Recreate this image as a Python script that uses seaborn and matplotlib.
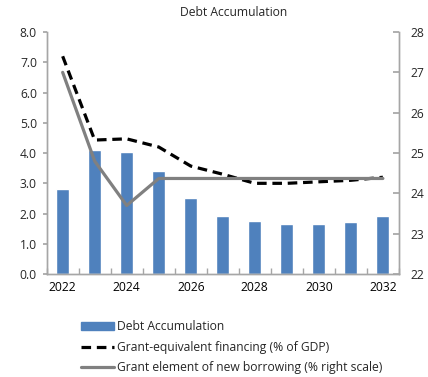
import numpy as np
import pandas as pd
import matplotlib
matplotlib.use("Agg")
import matplotlib.pyplot as plt
import seaborn as sns
from matplotlib.patches import Patch
from matplotlib.lines import Line2D

years = ["2022", "2023", "2024", "2025", "2026", "2027", "2028", "2029", "2030", "2031", "2032"]
debt_accum = [2.8, 4.1, 4.05, 3.4, 2.5, 1.93, 1.75, 1.65, 1.65, 1.72, 1.93]
grant_equiv = [7.2, 4.43, 4.47, 4.2, 3.57, 3.3, 3.0, 3.0, 3.05, 3.1, 3.2]
grant_element = [27.0, 24.8, 23.7, 24.37, 24.37, 24.37, 24.37, 24.37, 24.37, 24.37, 24.37]
tick_labels = ["2022", "", "2024", "", "2026", "", "2028", "", "2030", "", "2032"]

sns.set_theme(style="white")
plt.rcParams['font.family'] = ['Open Sans', 'DejaVu Sans']

FS = 8.7

df = pd.DataFrame({"year": years, "pos": np.arange(len(years)),
                   "debt": debt_accum, "ge": grant_equiv, "gel": grant_element})

fig = plt.figure(figsize=(4.28, 3.77), dpi=100)
ax = fig.add_axes([0.109, 0.273, 0.823, 0.642])
sns.barplot(data=df, x="pos", y="debt", color="#4F81BD", width=0.4, saturation=1,
            ax=ax, native_scale=True)
sns.lineplot(data=df, x="pos", y="ge", color="black", lw=2.3, ax=ax,
             linestyle=(0, (3, 1.8)))
ax2 = ax.twinx()
sns.lineplot(data=df, x="pos", y="gel", color="#808080", lw=2.3, ax=ax2)

ax.set_xlim(-0.5, len(years) - 0.5)
ax.set_ylim(0, 8)
ax.set_yticks(np.arange(0, 8.1, 1.0))
ax.set_yticklabels([f"{v:.1f}" for v in np.arange(0, 8.1, 1.0)])
ax.set_xticks(np.arange(len(years)))
ax.set_xticklabels(tick_labels)
ax.set_xticks(np.arange(-0.5, len(years), 1.0), minor=True)
ax2.set_ylim(22, 28)
ax2.set_yticks(np.arange(22, 29, 1))
for a in (ax, ax2):
    a.set_xlabel("")
    a.set_ylabel("")
    for s in a.spines.values():
        s.set_color("#A6A6A6")
        s.set_linewidth(1.0)
    a.spines["top"].set_visible(False)
ax.tick_params(axis="x", which="major", length=0, labelsize=FS, pad=5, colors="black")
ax.tick_params(axis="x", which="minor", length=4, color="#A6A6A6", direction="in", bottom=True)
ax.tick_params(axis="y", length=3, color="#A6A6A6", direction="out", left=True, labelsize=FS, pad=4)
ax2.tick_params(axis="y", length=4, color="#A6A6A6", direction="in", right=True, labelsize=FS, pad=8)

fig.text(0.545, 0.967, "Debt Accumulation", ha="center", va="center", fontsize=FS)

handles = [Patch(color="#4F81BD"),
           Line2D([0], [0], color="black", lw=2.3, linestyle=(0, (3, 1.8))),
           Line2D([0], [0], color="#808080", lw=2.3)]
labels = ["Debt Accumulation", "Grant-equivalent financing (% of GDP)",
          "Grant element of new borrowing (% right scale)"]
fig.legend(handles, labels, loc="upper left", bbox_to_anchor=(0.19, 0.15),
           frameon=False, fontsize=FS, handlelength=2.7, handletextpad=0.25,
           labelspacing=0.62, borderaxespad=0, borderpad=0)
fig.savefig("out.png", dpi=100)
